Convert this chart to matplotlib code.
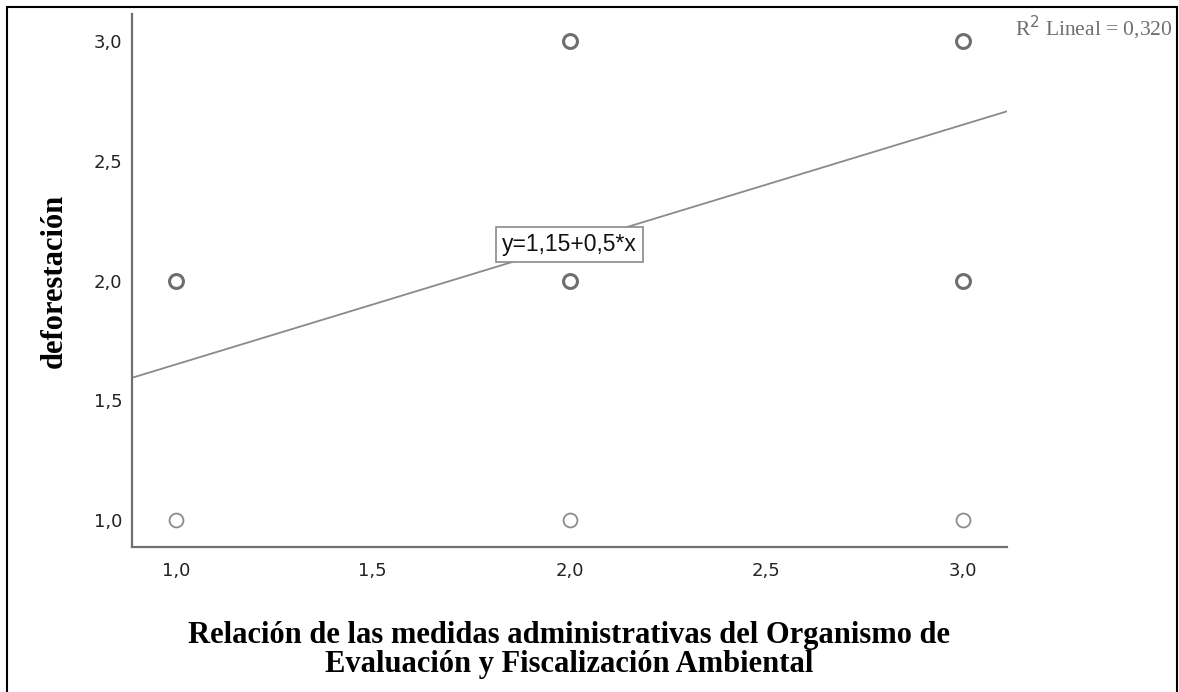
import matplotlib.pyplot as plt
from matplotlib.patches import Rectangle

# cases at each (x, y) cell; several cells hold more than one case (drawn darker)
x_vals = [1.0, 1.0, 2.0, 2.0, 2.0, 3.0, 3.0, 3.0]
y_vals = [1.0, 2.0, 1.0, 2.0, 3.0, 1.0, 2.0, 3.0]
multiple = [False, True, False, True, True, False, True, True]

b0, b1 = 1.15, 0.5
r2_label = "R$^2$ Lineal = 0,320"
eq_label = "y=1,15+0,5*x"

ticks = [1.0, 1.5, 2.0, 2.5, 3.0]
tick_labels = ["1,0", "1,5", "2,0", "2,5", "3,0"]

xlabel = "Relación de las medidas administrativas del Organismo de\nEvaluación y Fiscalización Ambiental"
ylabel = "deforestación"

fig = plt.figure(figsize=(11.79, 6.92), dpi=100)
ax = fig.add_axes([132 / 1179, 1 - 547 / 692, 875 / 1179, 533 / 692])

lo, hi = 0.888, 3.112
ax.set_xlim(lo, hi)
ax.set_ylim(lo, hi)

for x, y, m in zip(x_vals, y_vals, multiple):
    ax.plot(x, y, 'o', ms=10, mfc='white',
            mec='#6e6e6e' if m else '#8c8c8c', mew=2.2 if m else 1.3, zorder=3)

ax.plot([lo, hi], [b0 + b1 * lo, b0 + b1 * hi], color='#8a8a8a', lw=1.3, zorder=2)

ax.text(2.0, b0 + b1 * 2.0, eq_label, ha='center', va='center', fontsize=16.5,
        family='Liberation Sans', color='#111111', zorder=4,
        bbox=dict(boxstyle='square,pad=0.28', fc='white', ec='#8a8a8a', lw=1.2))

ax.set_xticks(ticks)
ax.set_xticklabels(tick_labels)
ax.set_yticks(ticks)
ax.set_yticklabels(tick_labels)
ax.tick_params(length=0, labelsize=13, colors='#222222')
ax.tick_params(axis='x', pad=11)
ax.tick_params(axis='y', pad=7)
for lab in ax.get_xticklabels() + ax.get_yticklabels():
    lab.set_family('DejaVu Sans')

for s in ['top', 'right']:
    ax.spines[s].set_visible(False)
for s in ['left', 'bottom']:
    ax.spines[s].set_color('#707070')
    ax.spines[s].set_linewidth(1.6)

ax.set_xlabel(xlabel, family='Liberation Serif', weight='bold', fontsize=22,
              linespacing=1.0, labelpad=29)
ax.set_ylabel(ylabel, family='Liberation Serif', weight='bold', fontsize=22,
              labelpad=18)

fig.text(1173 / 1179, 1 - 28 / 692, r2_label, ha='right', va='center',
         family='Liberation Serif', fontsize=15.5, color='#6e6e6e')

fig.patches.append(Rectangle((7 / 1179, -0.05), 1170 / 1179, 1.05 - 7 / 692,
                             transform=fig.transFigure, fill=False,
                             ec='black', lw=1.5))

fig.savefig("out.png", dpi=100)
